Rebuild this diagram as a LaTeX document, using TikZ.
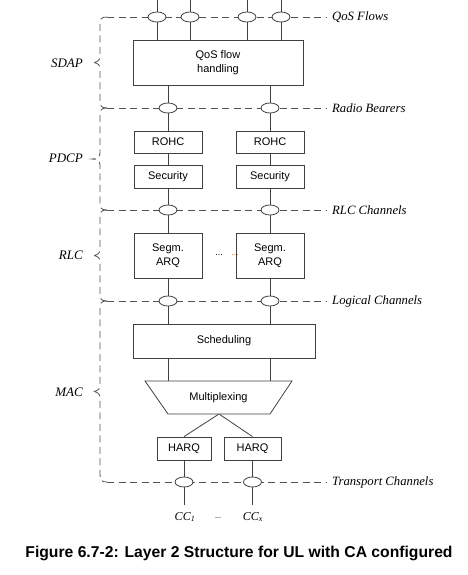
\documentclass[tikz,border=0pt]{standalone}
\usepackage{fontspec}
\setmainfont{Liberation Serif}
\setsansfont{Liberation Sans}
\usetikzlibrary{shapes.geometric}
\pgfdeclarelayer{background}
\pgfsetlayers{background,main}
\begin{document}
\begin{tikzpicture}[x=1pt,y=-1pt,
  box/.style={draw=black!75, line width=0.8pt, fill=white, inner sep=0pt, align=center,
    font=\sffamily\fontsize{11}{13.5}\selectfont},
  conn/.style={draw=black!75, line width=0.8pt},
  chan/.style={draw=black!68, line width=0.8pt, dash pattern=on 7pt off 4.5pt},
  ell/.style={ellipse, draw=black!75, fill=white, line width=0.8pt, minimum width=18pt, minimum height=10pt, inner sep=0pt},
  chlab/.style={anchor=west, inner sep=0pt, font=\itshape\fontsize{12.7}{14}\selectfont},
  laylab/.style={anchor=east, inner sep=0pt, font=\itshape\fontsize{13}{14}\selectfont},
  cclab/.style={inner sep=0pt, font=\itshape\fontsize{12}{14}\selectfont},
]
\useasboundingbox (0,0) rectangle (468,575);

% ---- boxes ----
\node[box, minimum width=170pt, minimum height=45pt] (qos) at (218,62.5) {QoS flow\\handling};
\node[box, minimum width=68pt, minimum height=22pt] (rohc1) at (168,142) {ROHC};
\node[box, minimum width=68pt, minimum height=22pt] (rohc2) at (270,142) {ROHC};
\node[box, minimum width=68pt, minimum height=23pt] (sec1) at (168,176.5) {Security};
\node[box, minimum width=68pt, minimum height=23pt] (sec2) at (270,176.5) {Security};
\node[box, minimum width=68pt, minimum height=45pt] (seg1) at (168,255.5) {Segm.\\ARQ};
\node[box, minimum width=68pt, minimum height=45pt] (seg2) at (270,255.5) {Segm.\\ARQ};
\node[inner sep=0pt, font=\sffamily\fontsize{9}{10}\selectfont] (dots1) at (219,255) {...};
\node[inner sep=0pt, text=orange!70!brown, font=\sffamily\fontsize{9}{10}\selectfont] (dots2) at (235,255) {...};
\node[box, minimum width=182pt, minimum height=34pt] (sched) at (224,341) {Scheduling};

% multiplexing trapezoid
\coordinate (mtl) at (145,381);
\coordinate (mtr) at (292,381);
\coordinate (mbr) at (270,414);
\coordinate (mbl) at (168,414);
\coordinate (mbc) at (219,414);
\draw[draw=black!75, line width=0.8pt, fill=white] (mtl) -- (mtr) -- (mbr) -- (mbl) -- cycle;
\node[inner sep=0pt, font=\sffamily\fontsize{11}{13}\selectfont] (mux) at (218.5,397.5) {Multiplexing};

\node[box, minimum width=54pt, minimum height=23pt] (harq1) at (184,448.5) {HARQ};
\node[box, minimum width=57pt, minimum height=23pt] (harq2) at (252.5,448.5) {HARQ};

% ---- ellipses on the channel lines ----
\node[ell] (qf1) at (157,17) {};
\node[ell] (qf2) at (190,17) {};
\node[ell] (qf3) at (247,17) {};
\node[ell] (qf4) at (281,17) {};
\node[ell] (rb1) at (168,108) {};
\node[ell] (rb2) at (270,108) {};
\node[ell] (rc1) at (168,210) {};
\node[ell] (rc2) at (270,210) {};
\node[ell] (lc1) at (168,301) {};
\node[ell] (lc2) at (270,301) {};
\node[ell] (tc1) at (184,482) {};
\node[ell] (tc2) at (252.5,482) {};

% free ends
\coordinate (t1) at (157,0);
\coordinate (t2) at (190,0);
\coordinate (t3) at (247,0);
\coordinate (t4) at (281,0);
\coordinate (b1) at (184,505);
\coordinate (b2) at (252.5,505);

% ---- channel lines, labels ----
\coordinate (qL) at (107,17);   \coordinate (qR) at (326,17);
\coordinate (rL) at (107,108);  \coordinate (rR) at (326,108);
\coordinate (cL) at (107,210);  \coordinate (cR) at (326,210);
\coordinate (lL) at (107,301);  \coordinate (lR) at (326,301);
\coordinate (tL) at (107,482);  \coordinate (tR) at (326,482);

\node[chlab] (lq) at (332,17) {QoS Flows};
\node[chlab] (lr) at (332,108) {Radio Bearers};
\node[chlab] (lc) at (332,210) {RLC Channels};
\node[chlab] (ll) at (332,301) {Logical Channels};
\node[chlab] (lt) at (332,482) {Transport Channels};

\node[laylab] (sdap) at (83,63) {SDAP};
\node[laylab] (pdcp) at (83,158) {PDCP};
\node[laylab] (rlc) at (83,255) {RLC};
\node[laylab] (mac) at (83,392) {MAC};

\node[cclab] (cc1) at (185,517) {CC\textsubscript{1}};
\node[cclab] (ccx) at (253,517) {CC\textsubscript{x}};
\node[inner sep=0pt, font=\fontsize{8}{9}\selectfont] (ccdots) at (218,518) {...};

\node[inner sep=0pt, font=\sffamily\bfseries\fontsize{15.7}{18}\selectfont] (cap) at (239,553)
  {Figure 6.7-2: Layer 2 Structure for UL with CA configured};

\begin{pgfonlayer}{background}
  % dashed channel lines
  \draw[chan] (qL) -- (qR);
  \draw[chan] (rL) -- (rR);
  \draw[chan] (cL) -- (cR);
  \draw[chan] (lL) -- (lR);
  \draw[chan] (tL) -- (tR);
  % braces
  \foreach \a/\b in {17/108, 108/210, 210/301, 301/482}{
    \pgfmathsetmacro{\m}{(\a+\b)/2}
    \draw[chan] (107,\a) .. controls (101,\a) and (100,\a+2) .. (100,\a+8)
      -- (100,\m-6) .. controls (100,\m-2) and (97,\m) .. (92,\m)
      .. controls (97,\m) and (100,\m+2) .. (100,\m+6)
      -- (100,\b-8) .. controls (100,\b-2) and (101,\b) .. (107,\b);
  }
  % QoS flows
  \foreach \i in {1,2,3,4}{
    \draw[conn] (t\i) -- (qf\i);
    \draw[conn] (qf\i) -- (qf\i |- qos.north);
  }
  % QoS -> ROHC
  \draw[conn] (rb1 |- qos.south) -- (rb1) -- (rohc1);
  \draw[conn] (rb2 |- qos.south) -- (rb2) -- (rohc2);
  \draw[conn] (rohc1) -- (sec1);
  \draw[conn] (rohc2) -- (sec2);
  \draw[conn] (sec1) -- (rc1) -- (seg1);
  \draw[conn] (sec2) -- (rc2) -- (seg2);
  \draw[conn] (seg1) -- (lc1) -- (lc1 |- sched.north);
  \draw[conn] (seg2) -- (lc2) -- (lc2 |- sched.north);
  \draw[conn] (lc1 |- sched.south) -- (lc1 |- mtl);
  \draw[conn] (lc2 |- sched.south) -- (lc2 |- mtl);
  \draw[conn] (mbc) -- (harq1.north);
  \draw[conn] (mbc) -- (harq2.north);
  \draw[conn] (harq1) -- (tc1) -- (b1);
  \draw[conn] (harq2) -- (tc2) -- (b2);
\end{pgfonlayer}
\end{tikzpicture}
\end{document}
